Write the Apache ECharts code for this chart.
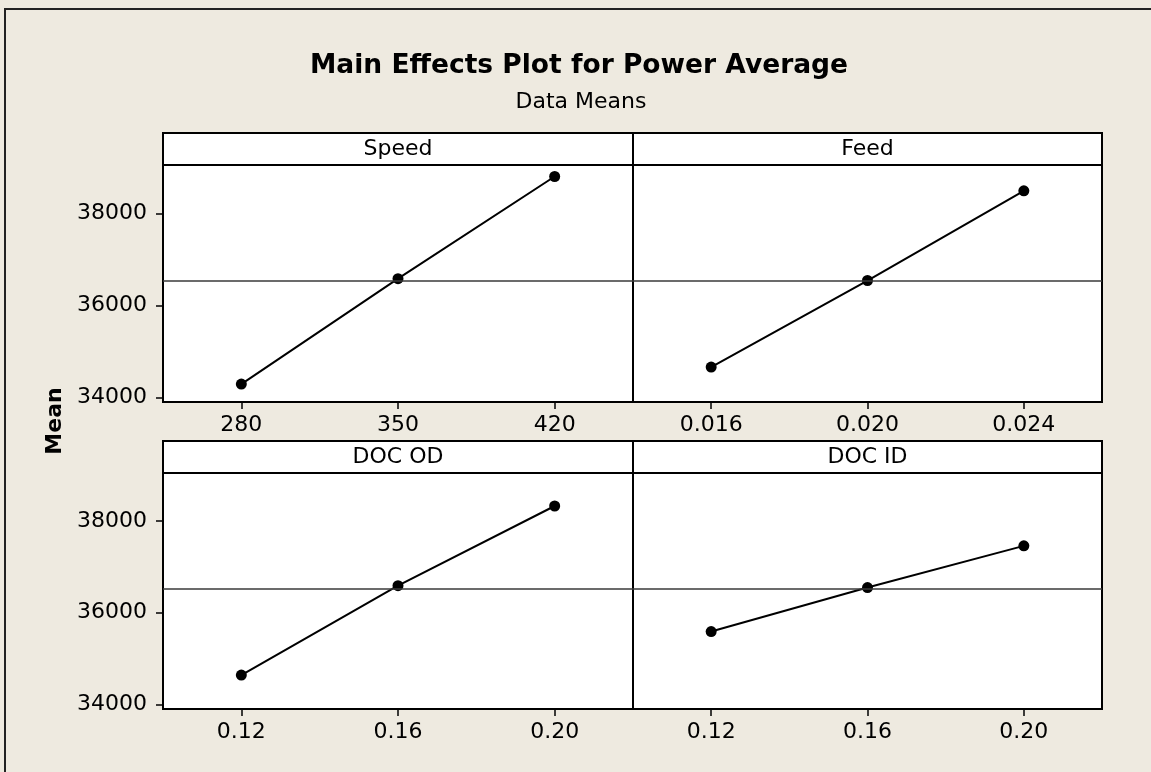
<!DOCTYPE html>
<head>
    <meta charset="utf-8">
    <title>Main Effects Plot</title>
</head>
<body style="margin:0">
<div id="main" style="width:1151px;height:772px"></div>
<script src="https://cdn.jsdelivr.net/npm/echarts@6/dist/echarts.min.js"></script>
<script type="text/javascript">
// data
var panelNames = ['Speed', 'Feed', 'DOC OD', 'DOC ID'];
var speedLevels = [280, 350, 420];
var speedMeans = [34290, 36580, 38800];
var feedLevels = [0.016, 0.020, 0.024];
var feedMeans = [34660, 36540, 38490];
var docOdLevels = [0.12, 0.16, 0.20];
var docOdMeans = [34640, 36590, 38330];
var docIdLevels = [0.12, 0.16, 0.20];
var docIdMeans = [35590, 36550, 37460];
var grandMean = 36530;
var yTicks = [34000, 36000, 38000];

var levels = [speedLevels, feedLevels, docOdLevels, docIdLevels];
var means = [speedMeans, feedMeans, docOdMeans, docIdMeans];
var xRange = [[245, 455], [0.014, 0.026], [0.10, 0.22], [0.10, 0.22]];
var xDigits = [0, 3, 2, 2];

var font = 'DejaVu Sans';
// panel boxes: left, plot top, width, height
var boxes = [
    [163, 165, 470, 237],
    [633, 165, 469, 237],
    [163, 473, 470, 236],
    [633, 473, 469, 236]
];
var headH = 32;

var myChart = echarts.init(document.getElementById('main'));

var grids = [], xAxes = [], yAxes = [], series = [], graphics = [];

// outer frame
graphics.push({
    type: 'rect', shape: {x: 5, y: 9, width: 1170, height: 790},
    style: {fill: null, stroke: '#222', lineWidth: 2}, z: 0
});

for (var i = 0; i < 4; i++) {
    var b = boxes[i];
    grids.push({
        left: b[0], top: b[1], width: b[2], height: b[3],
        show: true, backgroundColor: '#fff', borderColor: '#000', borderWidth: 2
    });
    (function (d) {
        xAxes.push({
            type: 'value', gridIndex: i, min: xRange[i][0], max: xRange[i][1],
            splitLine: {show: false},
            axisLine: {show: true, onZero: false, lineStyle: {color: '#000', width: 2}},
            axisTick: {show: true, length: 7, customValues: levels[i], lineStyle: {color: '#000', width: 1.5}},
            axisLabel: {
                customValues: levels[i], margin: 12, color: '#000', fontFamily: font, fontSize: 22,
                formatter: function (v) { return v.toFixed(d); }
            }
        });
    })(xDigits[i]);
    var leftCol = (i % 2 === 0);
    yAxes.push({
        type: 'value', gridIndex: i, min: 33900, max: 39050,
        splitLine: {show: false},
        axisLine: {show: true, lineStyle: {color: '#000', width: 2}},
        axisTick: {show: leftCol, length: 7, customValues: yTicks, lineStyle: {color: '#000', width: 1.5}},
        axisLabel: {
            show: leftCol, customValues: yTicks, margin: 16, color: '#000', fontFamily: font, fontSize: 22,
            formatter: function (v) { return String(v); }
        }
    });
    var pts = [];
    for (var j = 0; j < levels[i].length; j++) {
        pts.push([levels[i][j], means[i][j]]);
    }
    series.push({
        type: 'line', xAxisIndex: i, yAxisIndex: i, data: pts,
        symbol: 'circle', symbolSize: 11,
        itemStyle: {color: '#000'},
        lineStyle: {color: '#000', width: 2},
        markLine: {
            silent: true, symbol: 'none', label: {show: false},
            lineStyle: {color: '#3a3a3a', type: 'solid', width: 1.5},
            data: [{yAxis: grandMean}]
        }
    });
    // header strip with the factor name
    graphics.push({
        type: 'rect', shape: {x: b[0], y: b[1] - headH, width: b[2], height: headH},
        style: {fill: '#fff', stroke: '#000', lineWidth: 2}, z: 5
    });
    graphics.push({
        type: 'text', x: b[0] + b[2] / 2, y: b[1] - headH / 2, z: 6,
        style: {text: panelNames[i], fill: '#000', font: '22px "' + font + '"', align: 'center', verticalAlign: 'middle'}
    });
}

// y axis name
graphics.push({
    type: 'text', x: 55, y: 421, rotation: Math.PI / 2,
    style: {text: 'Mean', fill: '#000', font: 'bold 22px "' + font + '"', align: 'center', verticalAlign: 'middle'}
});

var option = {
    backgroundColor: '#EEEAE0',
    animation: false,
    title: [
        {text: 'Main Effects Plot for Power Average', left: 574, top: 48, textAlign: 'center',
            textStyle: {fontFamily: font, fontSize: 26.5, fontWeight: 'bold', color: '#000'}},
        {text: 'Data Means', left: 576, top: 86, textAlign: 'center',
            textStyle: {fontFamily: font, fontSize: 22, fontWeight: 'normal', color: '#000'}}
    ],
    grid: grids,
    xAxis: xAxes,
    yAxis: yAxes,
    series: series,
    graphic: graphics
};
myChart.setOption(option);
</script>
</body>
